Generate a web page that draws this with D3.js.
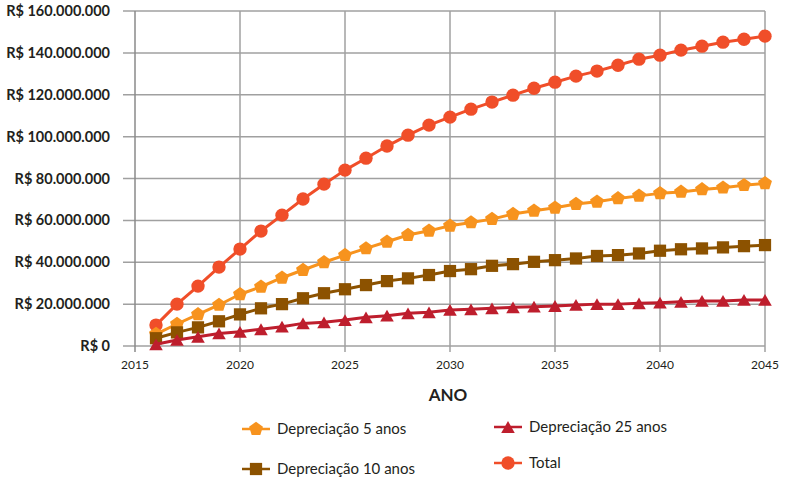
<!DOCTYPE html>
<html><head><meta charset="utf-8">
<script src="https://cdn.jsdelivr.net/npm/d3@7"></script>
<style>body{margin:0;background:#fff}svg{display:block}</style>
</head><body>
<svg id="c" width="786" height="480"></svg>
<script>
const years = d3.range(2016, 2046);
const dep5 = [5.7,10.5,15.1,19.6,24.7,28.3,32.6,36.3,40.0,43.4,46.6,49.8,53.0,55.0,57.4,59.0,60.6,63.0,64.6,66.0,67.8,68.9,70.5,71.7,72.9,73.6,74.8,75.6,76.8,77.7];
const dep10 = [3.7,6.5,8.9,11.8,15.1,18.0,20.0,22.8,25.2,27.1,29.1,31.0,32.3,33.9,35.8,36.7,38.3,39.1,40.2,41.0,41.8,43.0,43.4,44.2,45.5,46.2,46.6,47.1,47.7,48.2];
const dep25 = [0.8,2.9,4.4,6.0,6.8,8.0,9.2,10.8,11.3,12.4,13.7,14.5,15.6,16.1,17.2,17.5,18.0,18.5,18.8,19.1,19.6,20.0,20.0,20.4,20.7,21.1,21.5,21.5,22.0,22.0];
const total = [10.0,20.0,28.6,37.7,46.3,54.9,62.5,70.2,77.3,84.0,89.7,95.5,100.7,105.5,109.3,113.1,116.5,119.8,123.1,126.0,128.9,131.3,134.1,137.0,138.9,141.3,143.2,145.1,146.5,148.0];
const yTicks = [0,20,40,60,80,100,120,140,160];
const xTicks = [2015,2020,2025,2030,2035,2040,2045];
const seriesNames = ["Depreciação 5 anos","Depreciação 10 anos","Depreciação 25 anos","Total"];

const series = [
  {name: seriesNames[0], values: dep5, color: "#F7931E", symbol: "pent"},
  {name: seriesNames[1], values: dep10, color: "#8C5200", symbol: "square"},
  {name: seriesNames[2], values: dep25, color: "#BE1E2D", symbol: "tri"},
  {name: seriesNames[3], values: total, color: "#F04E29", symbol: "circle"}
];
const drawOrder = [3,0,1,2];

const svg = d3.select("#c");
const font = "Lato, 'Open Sans', sans-serif";
const L = 135, R = 765, T = 11, B = 346;
const x = d3.scaleLinear().domain([2015, 2045]).range([L, R]);
const y = d3.scaleLinear().domain([0, 160]).range([B, T]);

const fmt = v => v === 0 ? "R$ 0" : "R$ " + d3.format(",")(v*1e6).replace(/,/g, ".");

// grid
const g = svg.append("g");
g.selectAll("line.h").data(yTicks).join("line")
  .attr("x1", L - 12).attr("x2", R).attr("y1", d => y(d)).attr("y2", d => y(d))
  .attr("stroke", "#a0a0a0").attr("stroke-width", 1.5);
g.selectAll("line.v").data(xTicks).join("line")
  .attr("x1", d => x(d)).attr("x2", d => x(d)).attr("y1", T).attr("y2", B + 6)
  .attr("stroke", d => d === 2015 ? "#8a8a8a" : "#a0a0a0").attr("stroke-width", 1.5);

// y labels
svg.append("g").selectAll("text").data(yTicks).join("text")
  .attr("x", 110).attr("y", d => y(d)).attr("dy", "0.35em").attr("text-anchor", "end")
  .attr("font-family", font).attr("font-weight", "bold").attr("font-size", 14.5).attr("fill", "#231f20")
  .text(fmt);
// x labels
svg.append("g").selectAll("text").data(xTicks).join("text")
  .attr("x", d => x(d)).attr("y", 365).attr("dy", "0.35em").attr("text-anchor", "middle")
  .attr("font-family", font).attr("font-size", 12).attr("fill", "#231f20")
  .text(d => d);
svg.append("text").attr("x", 448).attr("y", 395).attr("dy", "0.35em").attr("text-anchor", "middle")
  .attr("font-family", font).attr("font-weight", "bold").attr("font-size", 17).attr("fill", "#231f20").text("ANO");

const sym = {
  circle: d3.symbol(d3.symbolCircle, 140),
  square: d3.symbol(d3.symbolSquare, 150),
  tri: d3.symbol(d3.symbolTriangle, 80)
};
function pentPath(r) {
  const pts = d3.range(5).map(i => {
    const a = -Math.PI/2 + i * 2*Math.PI/5;
    return [r*Math.cos(a), r*Math.sin(a)];
  });
  return "M" + pts.map(p => p.join(",")).join("L") + "Z";
}
function markerPath(s) {
  return s === "pent" ? pentPath(7.3) : sym[s]();
}
const triShift = Math.sqrt(80 * Math.sqrt(3)) / 6 * Math.sqrt(3) / 1; // approx h/6 adjustment
const triOff = (Math.sqrt(4 * 80 / Math.sqrt(3)) * Math.sqrt(3) / 2) / 6;

const line = d3.line().x((d, i) => x(years[i])).y(d => y(d));
drawOrder.forEach(k => {
  const s = series[k];
  const gg = svg.append("g");
  gg.append("path").attr("d", line(s.values)).attr("fill", "none").attr("stroke", s.color).attr("stroke-width", 3).attr("stroke-linejoin", "round");
  gg.selectAll("path.m").data(s.values).join("path").attr("class", "m")
    .attr("d", markerPath(s.symbol))
    .attr("transform", (d, i) => `translate(${x(years[i])},${y(d) + (s.symbol === "tri" ? triOff : 0)})`)
    .attr("fill", s.color);
});

// legend
const legendPos = [[242, 429], [242, 469], [494, 427], [494, 463]];
series.forEach((s, i) => {
  const [lx, ly] = legendPos[i];
  const lg = svg.append("g");
  lg.append("line").attr("x1", lx).attr("x2", lx + 28).attr("y1", ly).attr("y2", ly).attr("stroke", s.color).attr("stroke-width", 2.5);
  lg.append("path").attr("d", markerPath(s.symbol)).attr("transform", `translate(${lx + 14},${ly + (s.symbol === "tri" ? triOff : 0)})`).attr("fill", s.color);
  lg.append("text").attr("x", lx + 35).attr("y", ly).attr("dy", "0.35em")
    .attr("font-family", font).attr("font-size", 15).attr("fill", "#231f20").text(s.name);
});
</script>
</body></html>
